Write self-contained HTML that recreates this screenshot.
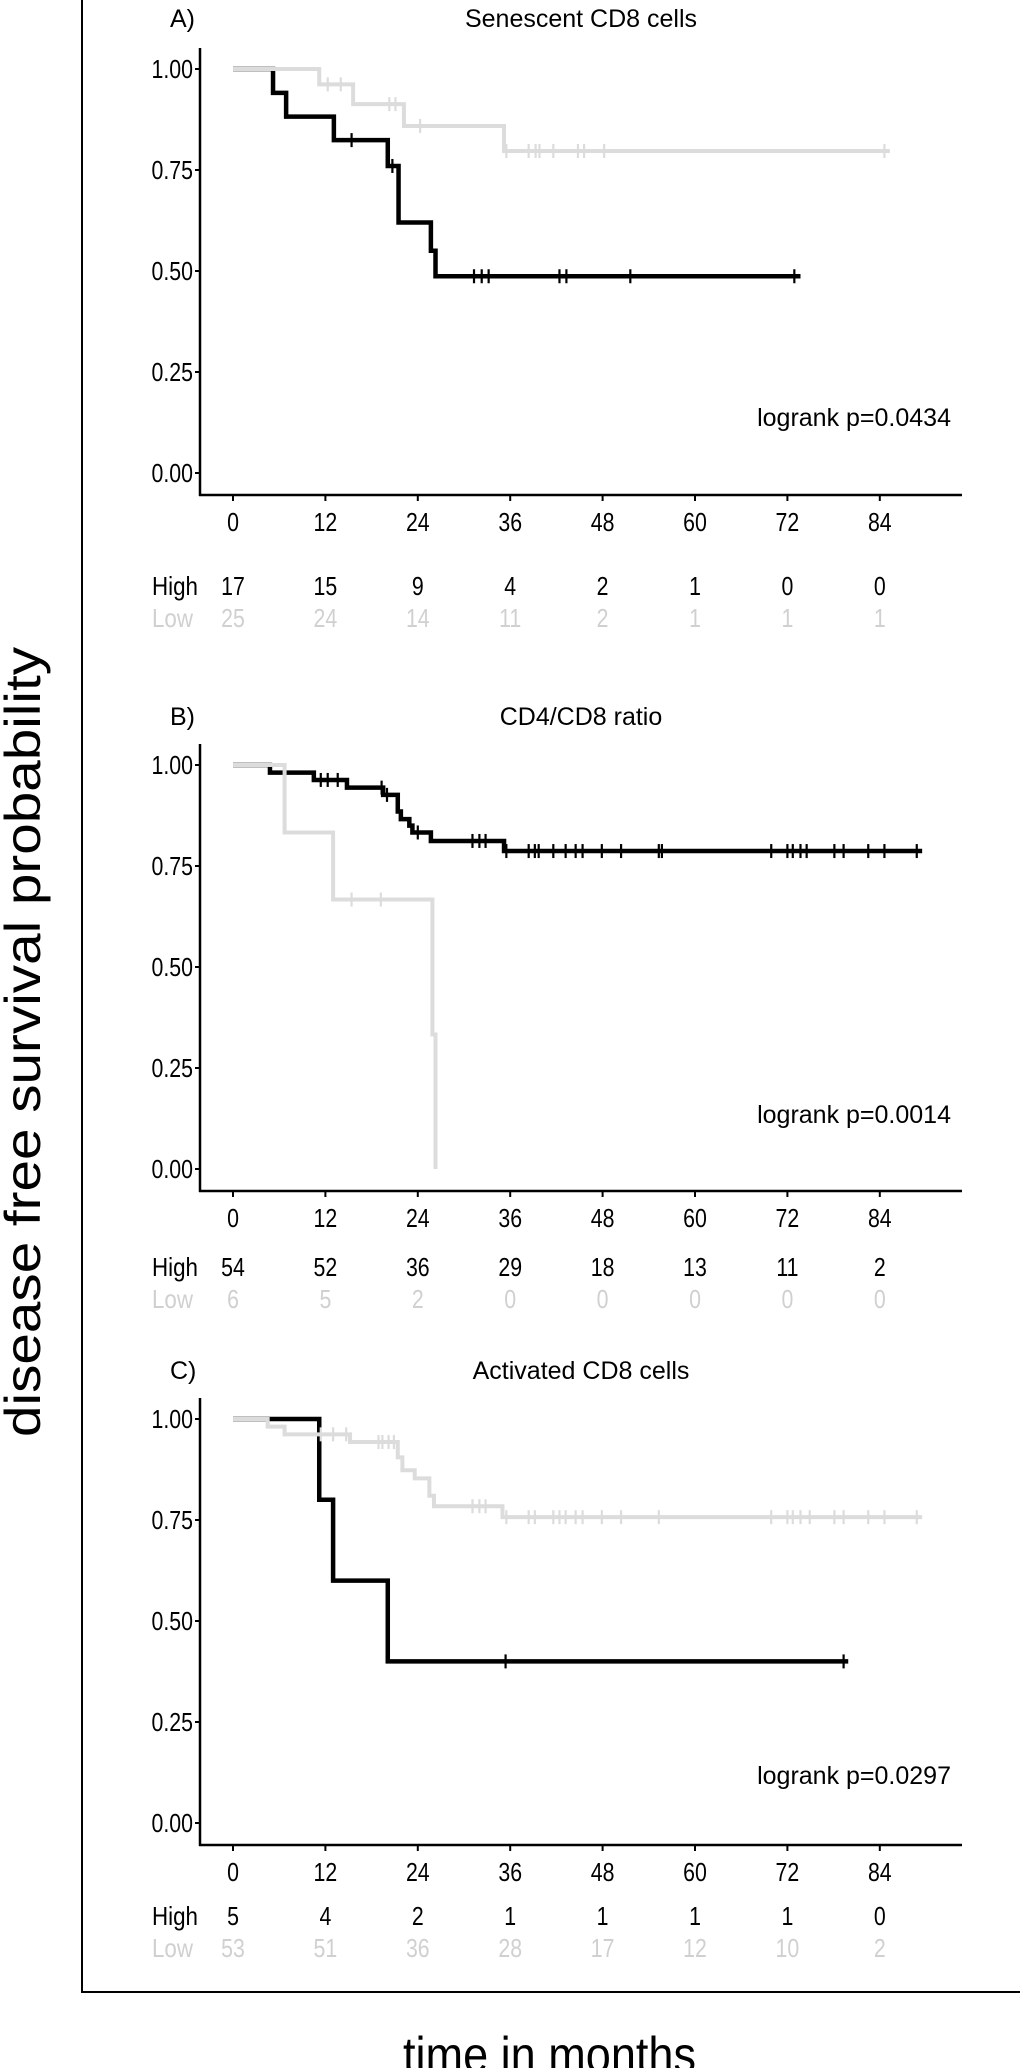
<!DOCTYPE html>
<html><head><meta charset="utf-8">
<style>
html,body{margin:0;padding:0;background:#fff;}
svg{display:block;}
text{font-family:"Liberation Sans",sans-serif;}
</style></head>
<body>
<svg id="fig" width="1020" height="2068" viewBox="0 0 1020 2068" xmlns="http://www.w3.org/2000/svg">
<line x1="82" y1="0" x2="82" y2="1993" stroke="#000" stroke-width="2"/>
<line x1="81" y1="1992" x2="1020" y2="1992" stroke="#000" stroke-width="2"/>
<text transform="translate(40,1042) rotate(-90)" text-anchor="middle" font-size="50" textLength="790" lengthAdjust="spacingAndGlyphs">disease free survival probability</text>
<text x="403" y="2072" font-size="50" textLength="293" lengthAdjust="spacingAndGlyphs">time in months</text>
<g id="panels"></g>
</svg>
<script>
// ---- Panel A: Senescent CD8 cells ----
const aHighTimes = [5.2, 6.9, 13.1, 20.1, 21.5, 25.7, 26.3];
const aHighSurv = [0.941, 0.882, 0.824, 0.76, 0.62, 0.55, 0.487];
const aHighCens = [15.4, 20.7, 31.3, 32.3, 33.2, 42.4, 43.3, 51.6, 72.9];
const aHighEnd = 73.7;
const aLowTimes = [11.2, 15.6, 22.2, 35.2];
const aLowSurv = [0.962, 0.913, 0.859, 0.797];
const aLowCens = [12.3, 14.0, 20.3, 21.1, 24.3, 35.5, 38.4, 39.3, 39.8, 41.6, 44.8, 45.6, 48.2, 84.6];
const aLowEnd = 85.3;
const aRiskHigh = ["17","15","9","4","2","1","0","0"];
const aRiskLow = ["25","24","14","11","2","1","1","1"];

// ---- Panel B: CD4/CD8 ratio ----
const bHighTimes = [4.8, 10.5, 14.8, 19.5, 21.4, 21.8, 22.9, 23.3, 25.7, 35.2];
const bHighSurv = [0.981, 0.963, 0.944, 0.926, 0.885, 0.866, 0.85, 0.833, 0.812, 0.787];
const bHighCens = [11.4, 12.3, 13.6, 19.3, 20.0, 24.0, 31.1, 32.0, 32.8, 35.5, 38.4, 39.2, 39.7, 41.6, 43.2, 44.5, 45.4, 47.9, 50.4, 55.3, 55.7, 69.9, 72.0, 72.7, 73.7, 74.5, 78.1, 79.3, 82.5, 84.6, 88.8];
const bHighEnd = 89.5;
const bLowTimes = [6.7, 13.0, 25.9, 26.3];
const bLowSurv = [0.833, 0.667, 0.333, 0.0];
const bLowCens = [15.4, 19.2];
const bLowEnd = 26.3;
const bRiskHigh = ["54","52","36","29","18","13","11","2"];
const bRiskLow = ["6","5","2","0","0","0","0","0"];

// ---- Panel C: Activated CD8 cells ----
const cHighTimes = [11.2, 13.0, 20.1];
const cHighSurv = [0.8, 0.6, 0.4];
const cHighCens = [35.4, 79.3];
const cHighEnd = 79.9;
const cLowTimes = [4.5, 6.7, 15.2, 21.4, 22.0, 23.6, 25.5, 26.1, 35.0];
const cLowSurv = [0.981, 0.962, 0.943, 0.905, 0.873, 0.853, 0.81, 0.784, 0.757];
const cLowCens = [11.4, 13.0, 14.7, 18.9, 19.4, 20.2, 20.9, 31.1, 32.0, 32.8, 35.5, 38.4, 39.2, 41.6, 42.4, 43.2, 44.5, 45.4, 47.9, 50.4, 55.3, 69.9, 72.0, 72.7, 73.7, 74.9, 78.1, 79.3, 82.5, 84.6, 88.8];
const cLowEnd = 89.5;
const cRiskHigh = ["5","4","2","1","1","1","1","0"];
const cRiskLow = ["53","51","36","28","17","12","10","2"];

const xTicks = [0, 12, 24, 36, 48, 60, 72, 84];
const yTicks = [0, 0.25, 0.5, 0.75, 1.0];
const yTickLabels = ["0.00", "0.25", "0.50", "0.75", "1.00"];

const NS = "http://www.w3.org/2000/svg";
const root = document.getElementById('panels');
const GREY = "#dcdcdc";
const LOWTXT = "#d0d0d0";

function el(tag, attrs, parent) {
  const e = document.createElementNS(NS, tag);
  for (const k in attrs) e.setAttribute(k, attrs[k]);
  parent.appendChild(e);
  return e;
}
function sx(t) { return 233 + t * 7.70; }
const pText2 = {a: 'logrank p=0.0434', b: 'logrank p=0.0014', c: 'logrank p=0.0297'};

function panel(key, letter, title, y1, tOff, riskHiY, riskLoY, pText, hi, lo) {
  const g = el('g', {}, root);
  
  
  const sy = v => y1 + (1 - v) * 404;
  const lt = el('text', {x: 170, y: y1 - tOff + 9, 'font-size': 25}, g);
  
  
  lt.textContent = letter;
  const tt = el('text', {x: 581, y: y1 - tOff + 9, 'font-size': 25, 'text-anchor': 'middle'}, g);
  
  
  tt.textContent = title;
  const ya = el('line', {x1: 200, y1: y1 - 21, x2: 200, y2: y1 + 427, stroke: '#000', 'stroke-width': 2.5}, g);
  
  
  const xa = el('line', {x1: 199, y1: y1 + 426, x2: 962, y2: y1 + 426, stroke: '#000', 'stroke-width': 2.5}, g);
  
  
  yTicks.forEach((v, i) => {
    const tk = el('line', {x1: 195, y1: sy(v), x2: 200, y2: sy(v), stroke: '#000', 'stroke-width': 2}, g);
    
    
    const lb = el('text', {transform: 'translate(193,' + (sy(v) + 9) + ') scale(0.82,1)', 'font-size': 26, 'text-anchor': 'end'}, g);
    
    
    lb.textContent = yTickLabels[i];
  });
  xTicks.forEach((t, i) => {
    const tk = el('line', {x1: sx(t), y1: y1 + 426, x2: sx(t), y2: y1 + 432, stroke: '#000', 'stroke-width': 2}, g);
    
    
    const lb = el('text', {transform: 'translate(' + sx(t) + ',' + (y1 + 462) + ') scale(0.82,1)', 'font-size': 26, 'text-anchor': 'middle'}, g);
    
    
    lb.textContent = String(t);
    const rh = el('text', {transform: 'translate(' + sx(t) + ',' + (y1 + riskHiY + 9) + ') scale(0.82,1)', 'font-size': 26, 'text-anchor': 'middle'}, g);
    
    
    rh.textContent = hi.risk[i];
    const rl = el('text', {transform: 'translate(' + sx(t) + ',' + (y1 + riskLoY + 9) + ') scale(0.82,1)', 'font-size': 26, 'text-anchor': 'middle', fill: LOWTXT}, g);
    
    
    rl.textContent = lo.risk[i];
  });
  const hl = el('text', {transform: 'translate(152,' + (y1 + riskHiY + 9) + ') scale(0.86,1)', 'font-size': 26}, g);
  
  
  hl.textContent = 'High';
  const ll = el('text', {transform: 'translate(152,' + (y1 + riskLoY + 9) + ') scale(0.86,1)', 'font-size': 26, fill: LOWTXT}, g);
  
  
  ll.textContent = 'Low';
  const pt = el('text', {x: 951, y: y1 + pText + 9, 'font-size': 25, 'text-anchor': 'end'}, g);
  
  
  pt.textContent = pText2[key];

  function curve(s, color, w, name) {
    let d = 'M' + sx(0) + ',' + sy(1);
    s.times.forEach((t, i) => {
      d += ' H' + sx(t) + ' V' + sy(s.surv[i]);
    });
    d += ' H' + sx(s.end);
    const p = el('path', {d: d, fill: 'none', stroke: color, 'stroke-width': w}, g);
    
    
    s.cens.forEach(t => {
      let v = 1;
      s.times.forEach((tt, i) => { if (tt <= t) v = s.surv[i]; });
      const c = el('line', {x1: sx(t), y1: sy(v) - 7, x2: sx(t), y2: sy(v) + 7, stroke: color, 'stroke-width': 2.2}, g);
      
      
    });
  }
  curve(hi, '#000', 4.5, 'high');
  curve(lo, GREY, 4, 'low');
}

panel('a', 'A)', 'Senescent CD8 cells', 69, 51, 517, 549, 348,
  {times: aHighTimes, surv: aHighSurv, cens: aHighCens, end: aHighEnd, risk: aRiskHigh},
  {times: aLowTimes, surv: aLowSurv, cens: aLowCens, end: aLowEnd, risk: aRiskLow});
panel('b', 'B)', 'CD4/CD8 ratio', 765, 49, 502, 534, 349,
  {times: bHighTimes, surv: bHighSurv, cens: bHighCens, end: bHighEnd, risk: bRiskHigh},
  {times: bLowTimes, surv: bLowSurv, cens: bLowCens, end: bLowEnd, risk: bRiskLow});
panel('c', 'C)', 'Activated CD8 cells', 1419, 49, 497, 529, 356,
  {times: cHighTimes, surv: cHighSurv, cens: cHighCens, end: cHighEnd, risk: cRiskHigh},
  {times: cLowTimes, surv: cLowSurv, cens: cLowCens, end: cLowEnd, risk: cRiskLow});
</script>
</body></html>
